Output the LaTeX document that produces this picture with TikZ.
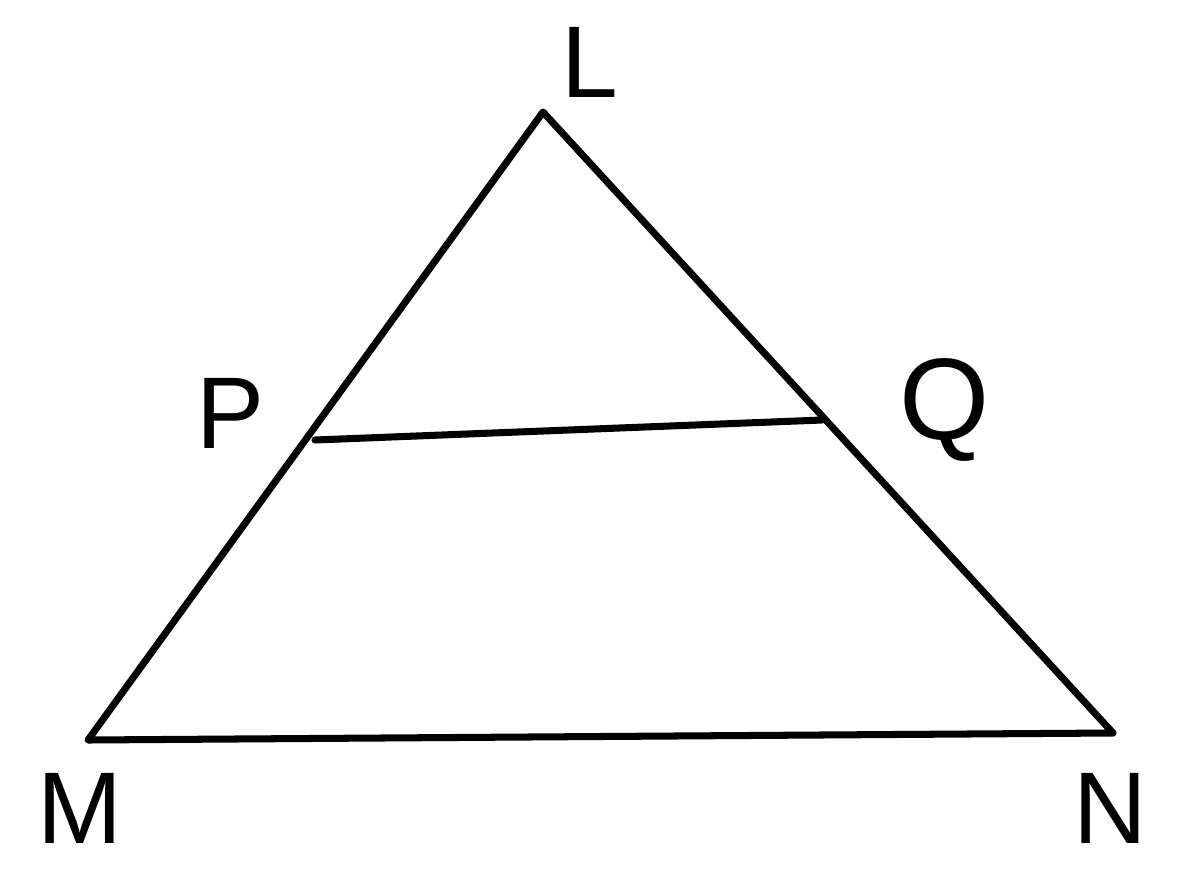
\documentclass[tikz,border=0pt]{standalone}
\usepackage{fontspec}
\setmainfont{Liberation Sans}
\begin{document}
\begin{tikzpicture}[x=0.02cm,y=-0.02cm,
  edge/.style={line width=4pt,line cap=round,line join=round,black},
  lbl/.style={font=\fontsize{58}{60}\selectfont,inner sep=0pt}]
\useasboundingbox (0,0) rectangle (1185,872);
\coordinate (L) at (543,112);
\coordinate (M) at (88,740);
\coordinate (N) at (1113,733);
\coordinate (P) at (315,440);
\coordinate (Q) at (822,420);
\draw[edge] (L) -- (M) -- (N) -- cycle;
\draw[edge] (P) -- (Q);
\node[lbl] (tL) at (590,62) {L};
\node[lbl] (tP) at (230,413) {P};
\node[lbl,font=\fontsize{66}{68}\selectfont] (tQ) at (945,410) {Q};
\node[lbl] (tM) at (80,808) {M};
\node[lbl] (tN) at (1110,808) {N};
\end{tikzpicture}
\end{document}
